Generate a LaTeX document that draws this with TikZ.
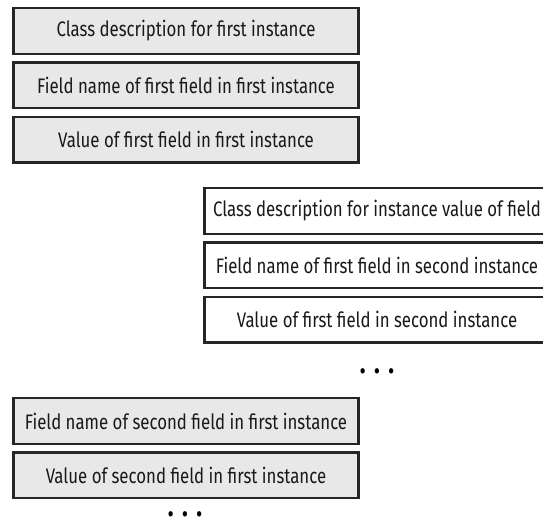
\documentclass[tikz,border=0pt]{standalone}
\usepackage{fontspec}
\setmainfont{Fira Sans}[FakeStretch=0.8]
\usetikzlibrary{positioning}

\tikzset{
  fieldbox/.style={draw=black!85, line width=2.4pt, minimum width=345pt,
    minimum height=45.5pt, inner sep=0pt, text=black!90,
    font=\fontsize{21}{24}\selectfont},
  shadedbox/.style={fieldbox, fill=black!9},
  plainbox/.style={fieldbox, fill=white},
  ellipsis/.style={inner sep=0pt, text height=12pt, text depth=0pt,
    font=\fontsize{24}{24}\selectfont}
}

\begin{document}
\begin{tikzpicture}[x=1pt,y=-1pt,node distance=6.5pt]
\useasboundingbox (0,0) rectangle (543,529);
% first instance
\node[shadedbox] (classA) at (186,31) {Class description for first instance};
\node[shadedbox, below=of classA] (nameA) {Field name of first field in first instance};
\node[shadedbox, below=of nameA] (valueA) {Value of first field in first instance};
% instance held in the first field
\node[plainbox] (classB) at (377,211) {Class description for instance value of field};
\node[plainbox, below=of classB] (nameB) {Field name of first field in second instance};
\node[plainbox, below=of nameB] (valueB) {Value of first field in second instance};
\node[ellipsis] (dotsB) at (377,373) {\textbullet\hspace{8pt}\textbullet\hspace{8pt}\textbullet};
% second field of first instance
\node[shadedbox] (nameC) at (186,421) {Field name of second field in first instance};
\node[shadedbox, below=of nameC] (valueC) {Value of second field in first instance};
\node[ellipsis] (dotsC) at (185,516) {\textbullet\hspace{8pt}\textbullet\hspace{8pt}\textbullet};
\end{tikzpicture}
\end{document}
